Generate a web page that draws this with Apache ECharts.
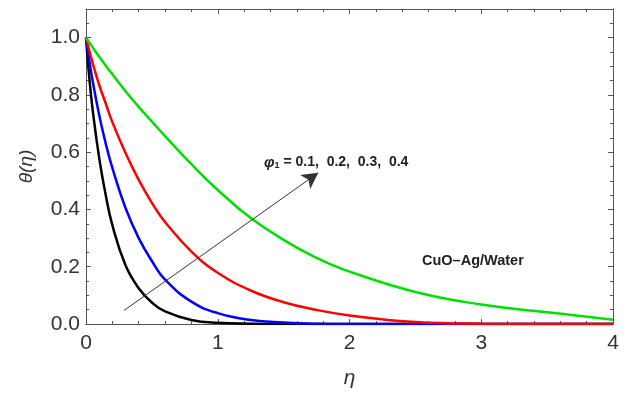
<!DOCTYPE html>
<html>
<head>
<meta charset="utf-8">
<script src="https://cdn.jsdelivr.net/npm/echarts@6/dist/echarts.min.js"></script>
<style>
html,body{margin:0;padding:0;background:#fff;}
#c{width:631px;height:394px;}
</style>
</head>
<body>
<div id="c"></div>
<script>
// eta grid shared by all curves
var eta = [0, 0.025, 0.05, 0.1, 0.15, 0.2, 0.3, 0.4, 0.5, 0.6, 0.8, 1.0, 1.25, 1.5, 1.75, 2.0, 2.5, 3.0, 3.5, 4.0];
// theta values
var thetaBlack = [1, 0.86, 0.75, 0.58, 0.45, 0.345, 0.205, 0.125, 0.075, 0.044, 0.014, 0.004, 0.001, 0, 0, 0, 0, 0, 0, 0];
var thetaBlue  = [1, 0.92, 0.85, 0.73, 0.63, 0.545, 0.405, 0.30, 0.22, 0.155, 0.078, 0.038, 0.014, 0.005, 0.001, 0, 0, 0, 0, 0];
var thetaRed   = [1, 0.955, 0.912, 0.835, 0.77, 0.705, 0.597, 0.503, 0.423, 0.356, 0.253, 0.179, 0.117, 0.076, 0.049, 0.03, 0.007, 0.001, 0, 0];
var thetaGreen = [1, 0.983, 0.966, 0.933, 0.902, 0.872, 0.813, 0.758, 0.707, 0.656, 0.558, 0.468, 0.37, 0.294, 0.231, 0.183, 0.112, 0.068, 0.041, 0.015];
var seriesNames = ['phi1=0.1', 'phi1=0.2', 'phi1=0.3', 'phi1=0.4'];
var seriesColors = ['#000000', '#0000ff', '#ff0000', '#00e000'];
var xTicks = [0, 1, 2, 3, 4];
var yTicks = [0, 0.2, 0.4, 0.6, 0.8, 1.0];
// arrow annotation (data coordinates)
var arrowStart = [0.288, 0.047];
var arrowEnd = [1.763, 0.528];

function pairs(ys){ return eta.map(function(x,i){ return [x, ys[i]]; }); }
var allTheta = [thetaBlack, thetaBlue, thetaRed, thetaGreen];

var chart = echarts.init(document.getElementById('c'), null, {renderer:'canvas'});
var frameColor = '#555';
var tickCommon = {show:true, inside:true, length:5, lineStyle:{color:frameColor}};
var minorCommon = {show:true, length:3, lineStyle:{color:frameColor}};
var font = 'Liberation Sans, Arial, sans-serif';

var series = allTheta.map(function(ys, i){
  return {
    name: seriesNames[i], type:'line', data: pairs(ys), smooth: 0.45,
    showSymbol:false, symbol:'none', lineStyle:{color: seriesColors[i], width:2.5},
    xAxisIndex:0, yAxisIndex:0, z: 3
  };
});
series.push({
  type:'line', data:[], xAxisIndex:0, yAxisIndex:0, silent:true,
  markLine:{
    silent:true, symbol:['none','arrow'], symbolSize:[13,16],
    label:{show:false},
    lineStyle:{color:'#333', width:1, type:'solid'},
    data:[[{coord: arrowStart}, {coord: arrowEnd}]]
  }
});

chart.setOption({
  animation:false,
  backgroundColor:'#fff',
  grid:{left:86, right:18, top:9, bottom:67},
  xAxis:[{
    type:'value', min:0, max:4, interval:1, position:'bottom',
    axisLine:{show:true, onZero:false, lineStyle:{color:frameColor, width:1}},
    axisTick:tickCommon, minorTick:Object.assign({splitNumber:5}, minorCommon),
    splitLine:{show:false}, minorSplitLine:{show:false},
    axisLabel:{color:'#333', fontSize:21, fontFamily:font, margin:9,
      formatter:function(v){ return xTicks.indexOf(v)>=0 ? String(v) : ''; }},
    name:'η', nameLocation:'middle', nameGap:44,
    nameTextStyle:{fontSize:21, fontStyle:'italic', color:'#333', fontFamily:font}
  },{
    type:'value', min:0, max:4, interval:1, position:'top',
    axisLine:{show:true, onZero:false, lineStyle:{color:frameColor, width:1}},
    axisTick:tickCommon, minorTick:Object.assign({splitNumber:5}, minorCommon),
    splitLine:{show:false}, axisLabel:{show:false}
  }],
  yAxis:[{
    type:'value', min:0, max:1.1, interval:0.2, position:'left',
    axisLine:{show:true, onZero:false, lineStyle:{color:frameColor, width:1}},
    axisTick:tickCommon, minorTick:Object.assign({splitNumber:4}, minorCommon),
    splitLine:{show:false}, minorSplitLine:{show:false},
    axisLabel:{color:'#333', fontSize:21, fontFamily:font, margin:6, showMaxLabel:false,
      formatter:function(v){
        for (var k=0;k<yTicks.length;k++){ if (Math.abs(yTicks[k]-v)<1e-9) return yTicks[k].toFixed(1); }
        return '';
      }},
    name:'θ(η)', nameLocation:'middle', nameGap:50, nameRotate:90,
    nameTextStyle:{fontSize:19, fontStyle:'italic', color:'#333', fontFamily:font}
  },{
    type:'value', min:0, max:1.1, interval:0.2, position:'right',
    axisLine:{show:true, onZero:false, lineStyle:{color:frameColor, width:1}},
    axisTick:tickCommon, minorTick:Object.assign({splitNumber:4}, minorCommon),
    splitLine:{show:false}, axisLabel:{show:false}
  }],
  graphic:[{
    type:'text', left:264, top:155, z:10,
    style:{
      text:'{p|φ}{s|1}{t| = 0.1,  0.2,  0.3,  0.4}',
      rich:{
        p:{fontSize:15, fontWeight:'bold', fontStyle:'italic', fill:'#222', fontFamily:font},
        s:{fontSize:9, fontWeight:'bold', fill:'#222', fontFamily:font, padding:[7,0,0,0]},
        t:{fontSize:14, fontWeight:'bold', fill:'#222', fontFamily:font}
      }
    }
  },{
    type:'text', left:422, top:253, z:10,
    style:{text:'CuO–Ag/Water', fontSize:14.5, fontWeight:'bold', fill:'#222', fontFamily:font}
  }],
  series: series
});
</script>
</body>
</html>
